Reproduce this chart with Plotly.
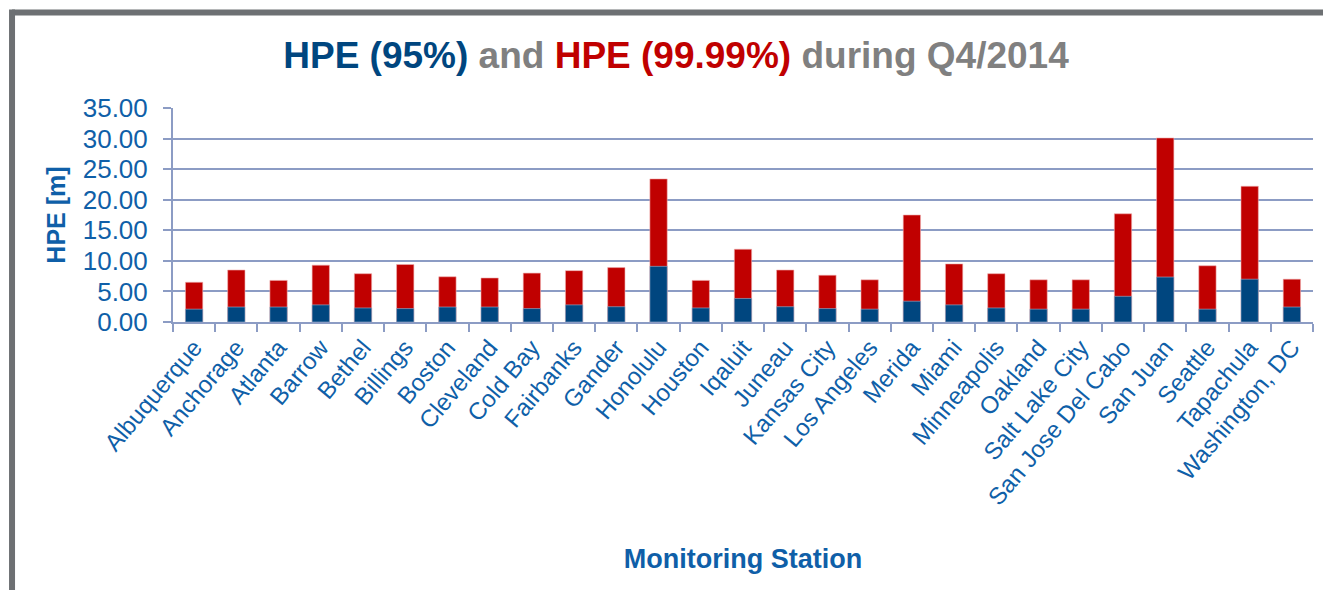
import plotly.graph_objects as go

stations = ['Albuquerque', 'Anchorage', 'Atlanta', 'Barrow', 'Bethel', 'Billings', 'Boston',
            'Cleveland', 'Cold Bay', 'Fairbanks', 'Gander', 'Honolulu', 'Houston', 'Iqaluit',
            'Juneau', 'Kansas City', 'Los Angeles', 'Merida', 'Miami', 'Minneapolis', 'Oakland',
            'Salt Lake City', 'San Jose Del Cabo', 'San Juan', 'Seattle', 'Tapachula',
            'Washington, DC']

hpe_95 = [2.1, 2.45, 2.45, 2.8, 2.3, 2.2, 2.45, 2.45, 2.2, 2.8, 2.5, 9.1, 2.3, 3.85,
          2.5, 2.2, 2.1, 3.4, 2.8, 2.3, 2.1, 2.1, 4.2, 7.35, 2.1, 7.0, 2.45]

hpe_9999 = [6.5, 8.5, 6.8, 9.3, 7.9, 9.4, 7.4, 7.2, 8.0, 8.4, 8.9, 23.4, 6.8, 11.9,
            8.5, 7.65, 6.9, 17.5, 9.5, 7.9, 6.9, 6.9, 17.7, 30.1, 9.2, 22.2, 7.0]

y_ticks = [0, 5, 10, 15, 20, 25, 30, 35]

BLUE = '#00467f'
RED = '#c00000'
GREY = '#808080'
LABEL = '#0f5fa8'
GRID = '#8c9cc4'
FONT = 'Liberation Sans, Arial, sans-serif'

fig = go.Figure()
fig.add_trace(go.Bar(x=stations, y=hpe_9999, name='HPE (99.99%)',
                     marker=dict(color=RED, line=dict(color='#f0b0b0', width=0.6)),
                     width=0.41))
fig.add_trace(go.Bar(x=stations, y=hpe_95, name='HPE (95%)',
                     marker=dict(color=BLUE, line=dict(color='#9fb3d0', width=0.6)),
                     width=0.41))

title = ('<span style="color:%s">HPE (95%%)</span> and '
         '<span style="color:%s">HPE (99.99%%)</span> during Q4/2014') % (BLUE, RED)

# page is shown with an 8px body margin, so the figure is laid out 8px up/left
fig.update_layout(
    width=1331,
    height=590,
    barmode='overlay',
    showlegend=False,
    plot_bgcolor='white',
    paper_bgcolor='white',
    margin=dict(l=165, r=26, t=100, b=276),
    font=dict(family=FONT, color=LABEL),
    title=dict(text=title, x=668 / 1331, xanchor='center', y=1 - 47 / 590, yanchor='middle',
               yref='container', font=dict(family=FONT, size=37, color=GREY, weight='bold')),
    xaxis=dict(
        type='category',
        tickangle=-50,
        tickfont=dict(size=24, color=LABEL),
        ticklabelstandoff=0,
        showline=True, linecolor=GRID, linewidth=2,
        ticks='outside', tickson='boundaries', ticklen=8, tickcolor=GRID, tickwidth=2,
        showgrid=False,
        title=dict(text='<b>Monitoring Station</b>', standoff=40,
                   font=dict(size=27, color=LABEL)),
    ),
    yaxis=dict(
        range=[0, 35],
        tickvals=y_ticks,
        tickformat='.2f',
        tickfont=dict(size=26, color=LABEL),
        ticklabelstandoff=10,
        showline=True, linecolor=GRID, linewidth=2,
        ticks='outside', ticklen=8, tickcolor=GRID, tickwidth=2,
        showgrid=True, gridcolor=GRID, gridwidth=2,
        zeroline=False,
        title=dict(text='<b>HPE [m]</b>', standoff=10,
                   font=dict(size=25, color=LABEL)),
    ),
    shapes=[
        # grey frame around the chart (top and left edges)
        dict(type='line', xref='paper', yref='paper', x0=-0.1412, x1=1.2, y0=1.4457, y1=1.4457,
             line=dict(color='#6d7073', width=6)),
        dict(type='line', xref='paper', yref='paper', x0=-0.1412, x1=-0.1412, y0=1.4597, y1=-1.3,
             line=dict(color='#6d7073', width=6)),
    ],
)

fig.write_html('out.html')
